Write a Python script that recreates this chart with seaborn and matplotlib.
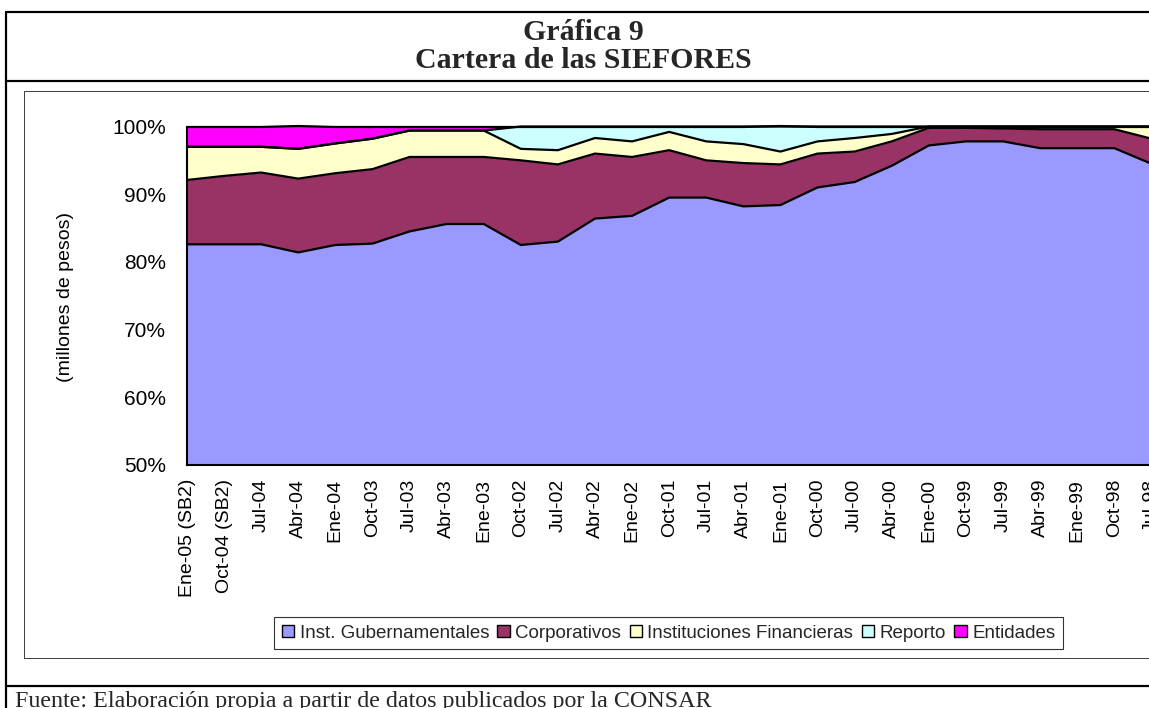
import numpy as np
import pandas as pd
import matplotlib
matplotlib.use("Agg")
import matplotlib.pyplot as plt
import seaborn as sns
from matplotlib.lines import Line2D
from matplotlib.patches import Patch, Rectangle
from matplotlib.ticker import FuncFormatter

# ---------------- data (percent of portfolio) ----------------
categories = ["Ene-05 (SB2)", "Oct-04 (SB2)", "Jul-04", "Abr-04", "Ene-04", "Oct-03",
              "Jul-03", "Abr-03", "Ene-03", "Oct-02", "Jul-02", "Abr-02", "Ene-02",
              "Oct-01", "Jul-01", "Abr-01", "Ene-01", "Oct-00", "Jul-00", "Abr-00",
              "Ene-00", "Oct-99", "Jul-99", "Abr-99", "Ene-99", "Oct-98", "Jul-98"]
gubernamentales = [82.6, 82.6, 82.6, 81.4, 82.5, 82.7, 84.5, 85.6, 85.6, 82.5, 83.0, 86.4, 86.8,
                   89.5, 89.5, 88.2, 88.4, 91.0, 91.8, 94.2, 97.2, 97.8, 97.8, 96.8, 96.8, 96.8, 94.5]
corporativos = [9.5, 10.1, 10.6, 10.9, 10.6, 11.0, 11.0, 9.9, 9.9, 12.5, 11.4, 9.6, 8.7,
                7.0, 5.5, 6.4, 6.0, 5.0, 4.5, 3.6, 2.6, 2.0, 1.9, 2.8, 2.8, 2.8, 3.7]
inst_financieras = [4.9, 4.3, 3.8, 4.4, 4.4, 4.5, 3.9, 3.9, 3.9, 1.7, 2.1, 2.3, 2.3,
                    2.7, 2.8, 2.8, 1.9, 1.8, 2.0, 1.1, 0.2, 0.2, 0.3, 0.4, 0.4, 0.4, 1.8]
reporto = [0, 0, 0, 0, 0, 0, 0, 0, 0, 3.3, 3.5, 1.7, 2.2,
           0.8, 2.2, 2.6, 3.7, 2.2, 1.7, 1.1, 0, 0, 0, 0, 0, 0, 0]
entidades = [3.0, 3.0, 3.0, 3.3, 2.5, 1.8, 0.6, 0.6, 0.6, 0, 0, 0, 0,
             0, 0, 0, 0, 0, 0, 0, 0, 0, 0, 0, 0, 0, 0]
series_names = ["Inst. Gubernamentales", "Corporativos", "Instituciones Financieras",
                "Reporto", "Entidades"]
yticks = [50, 60, 70, 80, 90, 100]

colors = ["#9999FF", "#993366", "#FFFFCC", "#CCFFFF", "#FF00FF"]

# ---------------- figure ----------------
sns.set_theme(style="white")
plt.rcParams['font.family'] = ['Liberation Sans', 'DejaVu Sans']

W, H = 1149, 708
fig = plt.figure(figsize=(W / 100, H / 100), dpi=100)
fig.patch.set_facecolor("white")


def fx(px):
    return px / W


def fy(py):
    return 1 - py / H


ax_left, ax_right, ax_top, ax_bottom = 187, 1151.4, 126.5, 465
ax = fig.add_axes([fx(ax_left), fy(ax_bottom), fx(ax_right - ax_left), (ax_bottom - ax_top) / H])
ax.set_facecolor("white")

x = np.arange(len(categories))
values = [gubernamentales, corporativos, inst_financieras, reporto, entidades]
ax.stackplot(x, *values, colors=colors, linewidth=0)

# boundaries drawn with seaborn
cum = np.cumsum(np.array(values, dtype=float), axis=0)
df = pd.DataFrame({"x": np.tile(x, len(values)),
                   "y": cum.ravel(),
                   "serie": np.repeat(series_names, len(x))})
sns.lineplot(data=df, x="x", y="y", units="serie", estimator=None, color="black",
             linewidth=1.6, ax=ax, clip_on=False, legend=False)

ax.set_xlim(0, len(categories) - 1)
ax.set_ylim(50, 100)
ax.set_yticks(yticks)
ax.yaxis.set_major_formatter(FuncFormatter(lambda v, p: f"{int(v)}%"))
ax.set_xticks(x)
ax.set_xticklabels(categories, rotation=90)
ax.set_xlabel("")
ax.set_ylabel("")
ax.tick_params(axis="y", direction="out", length=6, width=1, color="black",
               labelsize=15, pad=9, labelcolor="black")
ax.tick_params(axis="x", direction="out", length=5, width=1, color="black",
               labelsize=14, pad=5, labelcolor="black")
sns.despine(ax=ax, top=True, right=True)
for s in ["left", "bottom"]:
    ax.spines[s].set_color("black")
    ax.spines[s].set_linewidth(1.5)
ax.grid(False)

# y label
fig.text(fx(65), fy(297), "(millones de pesos)", rotation=90, ha="center", va="center",
         fontsize=14, color="black")

# legend
handles = [Patch(facecolor=c, edgecolor="black", linewidth=1.0) for c in colors]
leg = fig.legend(handles, series_names, loc="center", bbox_to_anchor=(fx(668.5), fy(633)),
                 ncol=5, fontsize=13.5, frameon=True, fancybox=False, handlelength=0.65,
                 handleheight=0.65, handletextpad=0.3, columnspacing=0.45,
                 borderpad=0.4, borderaxespad=0)
leg.get_frame().set_edgecolor("black")
leg.get_frame().set_linewidth(0.8)

# frames
px_lw = 0.72
fig.add_artist(Rectangle((fx(24), fy(658)), fx(1200 - 24), (658 - 91) / H, transform=fig.transFigure,
                         fill=False, edgecolor="#404040", linewidth=1.0 * px_lw))
for (x0, y0, x1, y1) in [(6, 12, 1149, 12), (6, 81, 1149, 81), (6, 686, 1149, 686), (6, 12, 6, 708)]:
    fig.add_artist(Line2D([fx(x0), fx(x1)], [fy(y0), fy(y1)], transform=fig.transFigure,
                          color="black", linewidth=2.2 * px_lw))

# titles
fig.text(fx(583), fy(33), "Gráfica 9", ha="center", va="center", fontsize=21.5,
         fontweight="bold", family=["Liberation Serif", "DejaVu Serif"])
fig.text(fx(583), fy(61), "Cartera de las SIEFORES", ha="center", va="center", fontsize=21.5,
         fontweight="bold", family=["Liberation Serif", "DejaVu Serif"])
fig.text(fx(15), fy(706.5), "Fuente: Elaboración propia a partir de datos publicados por la CONSAR",
         ha="left", va="baseline", fontsize=17.3, family=["Liberation Serif", "DejaVu Serif"])

fig.savefig("out.png", dpi=100)
